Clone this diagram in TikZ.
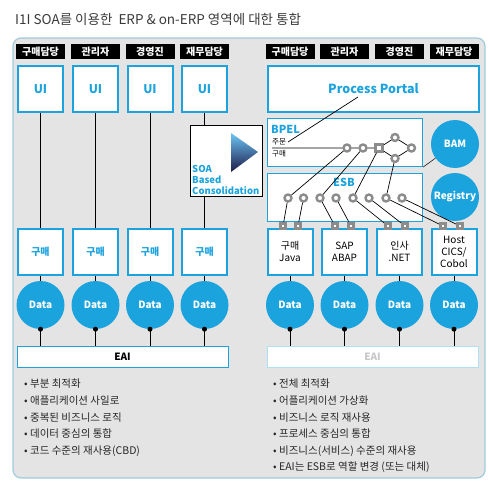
\documentclass[tikz,border=0pt]{standalone}
\usepackage{fontspec}
\setmainfont{Noto Sans CJK KR}
\usepackage{xcolor}
\definecolor{soablue}{HTML}{1BA3DE}
\definecolor{panelgray}{HTML}{E4E4E4}
\definecolor{panelline}{HTML}{9FCBDD}
\definecolor{ringgray}{HTML}{8C8C8C}
\definecolor{titlegray}{HTML}{3A3A3A}
\definecolor{soalight}{HTML}{6CC6F6}
\definecolor{soamid}{HTML}{3F7FC0}
\definecolor{soadark}{HTML}{1C1A48}
\tikzset{
  hdr/.style = {fill=black, text=white, font=\bfseries\fontsize{10}{10}\selectfont,
                minimum width=49pt, minimum height=15pt, inner sep=0pt},
  uibox/.style = {draw=soablue, line width=2pt, fill=white, text=soablue,
                  font=\bfseries\fontsize{12}{12}\selectfont,
                  minimum width=45pt, minimum height=46pt, inner sep=0pt},
  appbox/.style = {uibox, text=black, align=center,
                   font=\fontsize{10}{12}\selectfont},
  flowbox/.style = {draw=soablue, line width=1.2pt, fill=white,
                    minimum width=155pt, minimum height=48pt, inner sep=0pt},
  ball/.style = {circle, fill=soablue, text=white, font=\bfseries\fontsize{10}{10}\selectfont,
                 minimum size=48pt, inner sep=0pt},
  ring/.style = {circle, draw=ringgray, fill=white, line width=2.4pt,
                 minimum size=7pt, inner sep=0pt},
  port/.style = {rectangle, draw=ringgray, fill=white, line width=2.6pt,
                 minimum size=5.5pt, inner sep=0pt},
  blob/.style = {circle, fill=black, minimum size=5pt, inner sep=0pt},
  wire/.style = {black, line width=0.7pt},
  bullets/.style = {align=left, text=black!85, inner sep=0pt,
                    font=\fontsize{10.5}{16.6}\selectfont}
}

\begin{document}
\begin{tikzpicture}[x=1pt, y=-1pt]
	\def \yhdr{51.5}
	\def \yui{89}
	\def \ybuy{251.5}
	\def \ydata{305}
	\def \yeai{356.5}
	% left columns
	\def \la{40.5}
	\def \lb{95.5}
	\def \lc{150}
	\def \ld{204.5}
	% right columns
	\def \ra{290}
	\def \rb{344.5}
	\def \rc{399.5}
	\def \rd{454}

	\useasboundingbox (0,0) rectangle (488,487);

	% Title
	\node[anchor=base west, text=titlegray, inner sep=0pt,
	      font=\fontsize{13.5}{15}\selectfont] (title) at (15,25)
	      {I1I SOA를 이용한\ \ ERP \& on-ERP 영역에 대한 통합};

	% Panel
	\draw[panelline, fill=panelgray, line width=1.2pt, rounded corners=8pt] (13,38) rectangle (485,478);

	% Headers
	\node[hdr] (lh1) at (\la,\yhdr) {구매담당};
	\node[hdr] (lh2) at (\lb,\yhdr) {관리자};
	\node[hdr] (lh3) at (\lc,\yhdr) {경영진};
	\node[hdr] (lh4) at (\ld,\yhdr) {재무담당};
	\node[hdr] (rh1) at (\ra,\yhdr) {구매담당};
	\node[hdr] (rh2) at (\rb,\yhdr) {관리자};
	\node[hdr] (rh3) at (\rc,\yhdr) {경영진};
	\node[hdr] (rh4) at (\rd,\yhdr) {재무담당};

	% ----- left side -----
	\node[uibox] (ui1) at (\la,\yui) {UI};
	\node[uibox] (ui2) at (\lb,\yui) {UI};
	\node[uibox] (ui3) at (\lc,\yui) {UI};
	\node[uibox] (ui4) at (\ld,\yui) {UI};

	\node[uibox, font=\bfseries\fontsize{10}{10}\selectfont] (b1) at (\la,\ybuy) {구매};
	\node[uibox, font=\bfseries\fontsize{10}{10}\selectfont] (b2) at (\lb,\ybuy) {구매};
	\node[uibox, font=\bfseries\fontsize{10}{10}\selectfont] (b3) at (\lc,\ybuy) {구매};
	\node[uibox, font=\bfseries\fontsize{10}{10}\selectfont] (b4) at (\ld,\ybuy) {구매};

	\node[ball] (d1) at (\la,\ydata) {Data};
	\node[ball] (d2) at (\lb,\ydata) {Data};
	\node[ball] (d3) at (\lc,\ydata) {Data};
	\node[ball] (d4) at (\ld,\ydata) {Data};

	\node[draw=soablue, fill=white, line width=0.8pt, minimum width=211pt, minimum height=21pt,
	      inner sep=0pt, font=\bfseries\fontsize{10}{10}\selectfont] (leai) at (122.5,\yeai) {EAI};

	% SOA consolidation box
	\node[draw=black, fill=white, line width=0.8pt, minimum width=72pt, minimum height=71pt,
	      inner sep=0pt] (soa) at (226,160.5) {};
	\shade[top color=soalight, middle color=soamid, bottom color=soadark] (231,133) -- (258,152) -- (231,172) -- cycle;
	\node[anchor=south west, align=left, text=soablue, inner sep=0pt,
	      font=\bfseries\fontsize{9.5}{11}\selectfont] (soalbl) at (192,195) {SOA\\Based\\Consolidation};

	\draw[wire] (ui1) -- (b1);
	\draw[wire] (ui2) -- (b2);
	\draw[wire] (ui3) -- (b3);
	\draw[wire] (ui4) -- (ui4.south |- soa.north);
	\draw[wire] (ui4.south |- soa.south) -- (b4);
	\draw[wire] (b1) -- (d1);
	\draw[wire] (b2) -- (d2);
	\draw[wire] (b3) -- (d3);
	\draw[wire] (b4) -- (d4);
	\draw[wire] (d1.south) -- (d1.south |- leai.north);
	\draw[wire] (d2.south) -- (d2.south |- leai.north);
	\draw[wire] (d3.south) -- (d3.south |- leai.north);
	\draw[wire] (d4.south) -- (d4.south |- leai.north);
	\node[blob] at (d1.south) {};
	\node[blob] at (d2.south) {};
	\node[blob] at (d3.south) {};
	\node[blob] at (d4.south) {};

	% ----- right side -----
	\node[uibox, minimum width=211pt, font=\bfseries\fontsize{12.5}{13}\selectfont] (pp) at (373.5,\yui) {Process Portal};
	\node[flowbox] (bpel) at (345,142.5) {};
	\node[flowbox] (esb) at (345,197.5) {};
	\node[ball] (bam) at (455,144) {BAM};
	\node[ball] (reg) at (455,197) {Registry};

	\node[anchor=west, text=soablue, inner sep=0pt, font=\bfseries\fontsize{11}{11}\selectfont] (bpellbl) at (271,129) {BPEL};
	\node[anchor=west, inner sep=0pt, font=\fontsize{7.5}{8}\selectfont] (order) at (272,141.5) {주문};
	\node[anchor=west, inner sep=0pt, font=\fontsize{7.5}{8}\selectfont] (buy) at (272,154) {구매};
	\node[text=soablue, inner sep=0pt, font=\bfseries\fontsize{11}{11}\selectfont] (esblbl) at (344,182) {ESB};

	% BPEL flow
	\coordinate (bp0) at (272,148);
	\node[ring] (p1) at (347,148) {};
	\node[ring] (p2) at (363,148) {};
	\node[port, minimum size=7pt] (p3) at (379,148) {};
	\node[ring] (p4) at (395,137.5) {};
	\node[ring] (p5) at (411.5,148) {};
	\node[ring] (p6) at (395,158.5) {};
	\draw[wire] (bp0) -- (p1) -- (p2) -- (p3) -- (p4) -- (p5) -- (p6) -- (p3);

	% portal to BPEL
	\coordinate (ppt) at (358,97);
	\coordinate (ord) at (288,142);
	\draw[wire] (ppt) -- (ord);
	\draw[wire, line width=0.5pt] (bpel.south east) -- (bam);

	% ESB services
	\node[ring] (e1) at (288,198) {};
	\node[ring] (e2) at (303.5,198) {};
	\node[ring] (e3) at (320,198) {};
	\node[ring] (e4) at (336,198) {};
	\node[ring] (e5) at (353,198) {};
	\node[ring] (e6) at (369,198) {};
	\node[ring] (e7) at (386,198) {};
	\node[ring] (e8) at (402,198) {};
	\draw[wire] (p1) -- (e1);
	\draw[wire] (p2) -- (e3);
	\draw[wire] (p3) -- (e5);
	\draw[wire] (p6) -- (e7);

	% applications
	\node[appbox] (a1) at (\ra,\ybuy) {구매\\Java};
	\node[appbox] (a2) at (\rb,\ybuy) {SAP\\ABAP};
	\node[appbox] (a3) at (\rc,\ybuy) {인사\\.NET};
	\node[appbox] (a4) at (\rd,\ybuy) {Host\\CICS/\\Cobol};

	\node[port] (t1) at (283,226) {};
	\node[port] (t2) at (298,226) {};
	\node[port] (t3) at (335,226) {};
	\node[port] (t4) at (351,226) {};
	\node[port] (t5) at (388,226) {};
	\node[port] (t6) at (405,226) {};
	\node[port] (t7) at (443,226) {};
	\node[port] (t8) at (460,226) {};
	\draw[wire] (e1) -- (t1);
	\draw[wire] (e2) -- (t2);
	\draw[wire] (e3) -- (t3);
	\draw[wire] (e4) -- (t4);
	\draw[wire] (e5) -- (t5);
	\draw[wire] (e6) -- (t6);
	\draw[wire] (e7) -- (t7);
	\draw[wire] (e8) -- (t8);

	\node[ball] (r1) at (\ra,\ydata) {Data};
	\node[ball] (r2) at (\rb,\ydata) {Data};
	\node[ball] (r3) at (\rc,\ydata) {Data};
	\node[ball] (r4) at (\rd,\ydata) {Data};

	\node[draw=soablue!35, fill=white, line width=0.8pt, minimum width=211pt, minimum height=21pt,
	      inner sep=0pt, text=black!22, font=\bfseries\fontsize{10}{10}\selectfont] (reai) at (372.5,\yeai) {EAI};

	\draw[wire] (a1) -- (r1);
	\draw[wire] (a2) -- (r2);
	\draw[wire] (a3) -- (r3);
	\draw[wire] (a4) -- (r4);
	\draw[wire] (r1.south) -- (r1.south |- reai.north);
	\draw[wire] (r2.south) -- (r2.south |- reai.north);
	\draw[wire] (r3.south) -- (r3.south |- reai.north);
	\draw[wire] (r4.south) -- (r4.south |- reai.north);
	\node[blob] at (r1.south) {};
	\node[blob] at (r2.south) {};
	\node[blob] at (r3.south) {};
	\node[blob] at (r4.south) {};

	% Notes
	\node[bullets, anchor=north west] (lnote) at (24,379)
	     {• 부분 최적화\\• 애플리케이션 사일로\\• 중복된 비즈니스 로직\\• 데이터 중심의 통합\\• 코드 수준의 재사용(CBD)};
	\node[bullets, anchor=north west] (rnote) at (273,379)
	     {• 전체 최적화\\• 어플리케이션 가상화\\• 비즈니스 로직 재사용\\• 프로세스 중심의 통합\\• 비즈니스(서비스) 수준의 재사용\\• EAI는 ESB로 역할 변경 (또는 대체)};
\end{tikzpicture}
\end{document}
